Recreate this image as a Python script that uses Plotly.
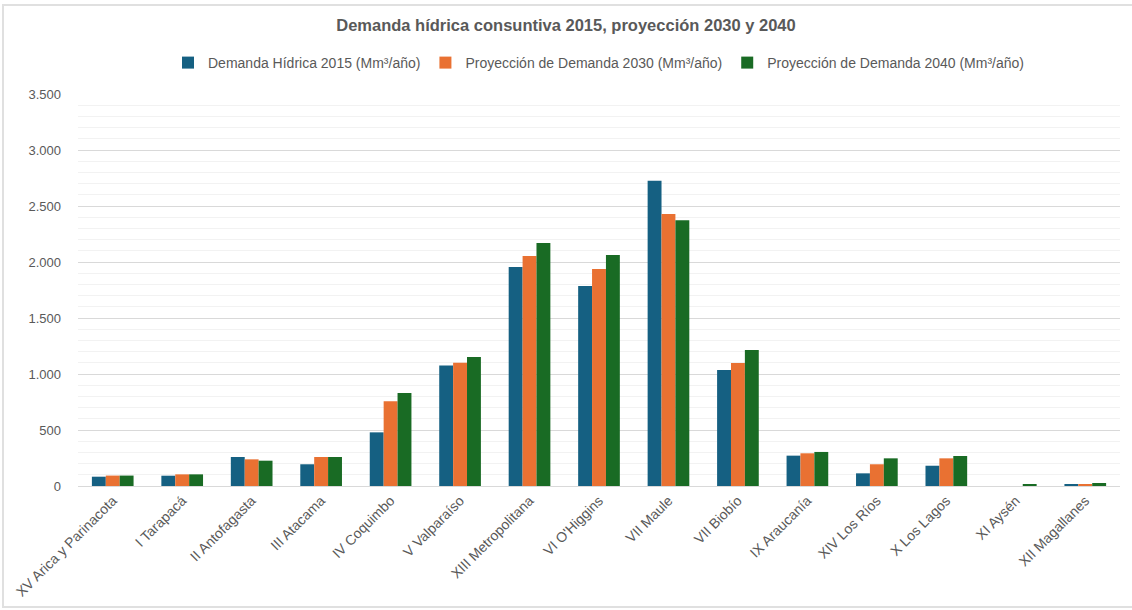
import plotly.graph_objects as go

regiones = ["XV Arica y Parinacota", "I Tarapacá", "II Antofagasta", "III Atacama",
            "IV Coquimbo", "V Valparaíso", "XIII Metropolitana", "VI O'Higgins",
            "VII Maule", "VII Biobío", "IX Araucanía", "XIV Los Ríos",
            "X Los Lagos", "XI Aysén", "XII Magallanes"]
demanda_2015 = [83, 92, 259, 194, 479, 1075, 1955, 1786, 2726, 1036, 271, 113, 181, 0, 16]
proyeccion_2030 = [93, 104, 238, 259, 756, 1100, 2054, 1937, 2429, 1098, 292, 194, 247, 0, 16]
proyeccion_2040 = [93, 104, 226, 259, 830, 1152, 2170, 2063, 2372, 1214, 304, 247, 268, 14, 27]

nombres = ["Demanda Hídrica 2015 (Mm³/año)",
           "Proyección de Demanda 2030 (Mm³/año)",
           "Proyección de Demanda 2040 (Mm³/año)"]
colores = ["#156082", "#E97132", "#196B24"]
y_ticks = [0, 500, 1000, 1500, 2000, 2500, 3000, 3500]
y_labels = ["0", "500", "1.000", "1.500", "2.000", "2.500", "3.000", "3.500"]

fig = go.Figure()
for nombre, serie, color in zip(nombres, [demanda_2015, proyeccion_2030, proyeccion_2040], colores):
    fig.add_trace(go.Bar(x=regiones, y=serie, name=nombre, marker_color=color,
                         marker_line_width=0))

font_fam = "Liberation Sans, Arial, sans-serif"
W, H = 1132, 610
ml, mr, mt, mb = 78, 12, 94, 124
pw, ph = W - ml - mr, H - mt - mb

fig.update_layout(
    width=W, height=H,
    margin=dict(l=ml, r=mr, t=mt, b=mb, autoexpand=False),
    paper_bgcolor="white", plot_bgcolor="white",
    barmode="group", bargap=0.4, bargroupgap=0,
    font=dict(family=font_fam, size=13, color="#595959"),
    title=dict(text="<b>Demanda hídrica consuntiva 2015, proyección 2030 y 2040</b>",
               x=0.5, xanchor="center", y=1 - 25 / H, yanchor="middle",
               font=dict(family=font_fam, size=16.5, color="#595959")),
    legend=dict(orientation="h", x=0.5, xanchor="center", y=1 + 31 / ph, yanchor="middle",
                font=dict(size=14, color="#595959"), itemwidth=30,
                traceorder="normal"),
    xaxis=dict(tickangle=-45, showgrid=False, showline=True, linecolor="#D9D9D9",
               automargin=False, ticks="", tickfont=dict(size=14, color="#595959")),
    yaxis=dict(range=[0, 3500], tickvals=y_ticks, ticktext=y_labels,
               showgrid=True, gridcolor="#D9D9D9", gridwidth=1,
               minor=dict(dtick=100, showgrid=True, gridcolor="#F2F2F2", gridwidth=1),
               zeroline=False, showline=False, ticks="", automargin=False,
               ticklabelstandoff=16,
               tickfont=dict(size=13, color="#595959")),
    shapes=[dict(type="rect", xref="paper", yref="paper",
                 x0=-(ml - 3) / pw, x1=1 + (mr + 10) / pw,
                 y0=-(mb - 3) / ph, y1=1 + (mt - 5) / ph,
                 line=dict(color="#E0E0E0", width=2), fillcolor="rgba(0,0,0,0)", layer="below")],
)

fig.write_html("out.html", config={"displayModeBar": False},
               post_script="document.body.style.margin='0';")
